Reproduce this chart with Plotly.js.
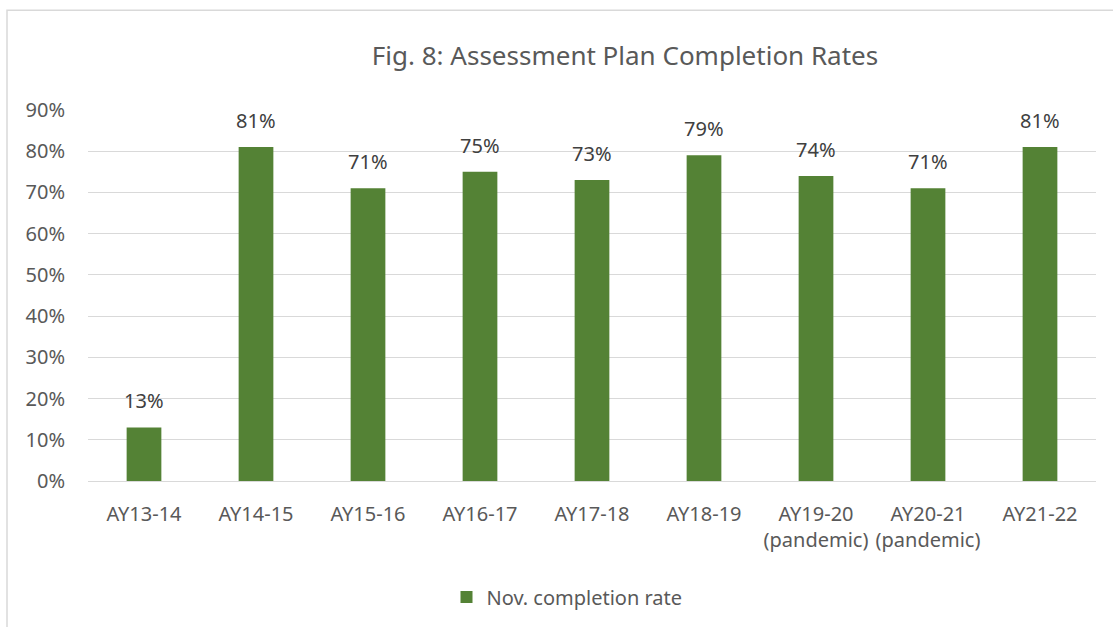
<!DOCTYPE html>
<html><head><meta charset="utf-8">
<script src="https://cdn.plot.ly/plotly-3.0.1.min.js"></script>
<style>html,body{margin:0;padding:0;background:#fff;}#chart{width:1113px;height:627px;}</style>
</head><body><div id="chart"></div>
<script>
const categories = ["AY13-14","AY14-15","AY15-16","AY16-17","AY17-18","AY18-19","AY19-20<br>(pandemic)","AY20-21<br>(pandemic)","AY21-22"];
const values = [0.13,0.81,0.71,0.75,0.73,0.79,0.74,0.71,0.81];
const labels = ["13%","81%","71%","75%","73%","79%","74%","71%","81%"];
const seriesName = "Nov. completion rate";
const yTicks = [0,0.1,0.2,0.3,0.4,0.5,0.6,0.7,0.8,0.9];
const yTickText = ["0%","10%","20%","30%","40%","50%","60%","70%","80%","90%"];

const font = "Noto Sans, Open Sans, sans-serif";
const trace = {
  type: 'bar', x: categories, y: values, name: seriesName,
  marker: {color: '#548235'}, width: 0.31, showlegend: true,
  hoverinfo: 'skip'
};
const annotations = categories.map((c,i)=>({
  x: c, y: values[i], text: labels[i], showarrow: false,
  yanchor: 'bottom', yshift: 11, xref: 'x', yref: 'y',
  font: {family: font, size: 20, color: '#404040'}
}));
const L=88, T=110, W=1008, H=372;
const layout = {
  width: 1113, height: 627,
  margin: {l: L, r: 1113-L-W, t: T, b: 627-T-H, pad: 0},
  paper_bgcolor: '#fff', plot_bgcolor: '#fff',
  title: {text: 'Fig. 8: Assessment Plan Completion Rates', x: (625-L)/W, xref: 'paper', xanchor: 'center', y: 1-56/627, yanchor: 'middle',
    font: {family: font, size: 26, color: '#595959'}},
  font: {family: font, color: '#595959', size: 20},
  bargap: 0.69,
  xaxis: {type: 'category', showgrid: false, showline: true, linecolor: '#d9d9d9', linewidth: 1,
    ticks: '', tickfont: {family: font, size: 20, color: '#595959'}, ticklabelstandoff: 15, fixedrange: true},
  yaxis: {range: [0, 0.9], tickvals: yTicks, ticktext: yTickText, showgrid: true, gridcolor: '#d9d9d9', gridwidth: 1,
    zeroline: false, showline: false, ticks: '', tickfont: {family: font, size: 20, color: '#595959'}, ticklabelstandoff: 22, fixedrange: true},
  legend: {orientation: 'h', x: (567-L)/W, xanchor: 'center', y: (482-597)/H, yanchor: 'middle',
    font: {family: font, size: 20, color: '#595959'}, itemwidth: 30},
  annotations: annotations,
  shapes: [{type: 'rect', xref: 'paper', yref: 'paper',
    x0: (7-L)/W, x1: (1120-L)/W, y0: (T+H-640)/H, y1: 1+(T-10)/H,
    line: {color: '#d9d9d9', width: 1.5}, fillcolor: 'rgba(0,0,0,0)', layer: 'below'}]
};
Plotly.newPlot('chart', [trace], layout, {displayModeBar: false, staticPlot: true});
</script></body></html>
